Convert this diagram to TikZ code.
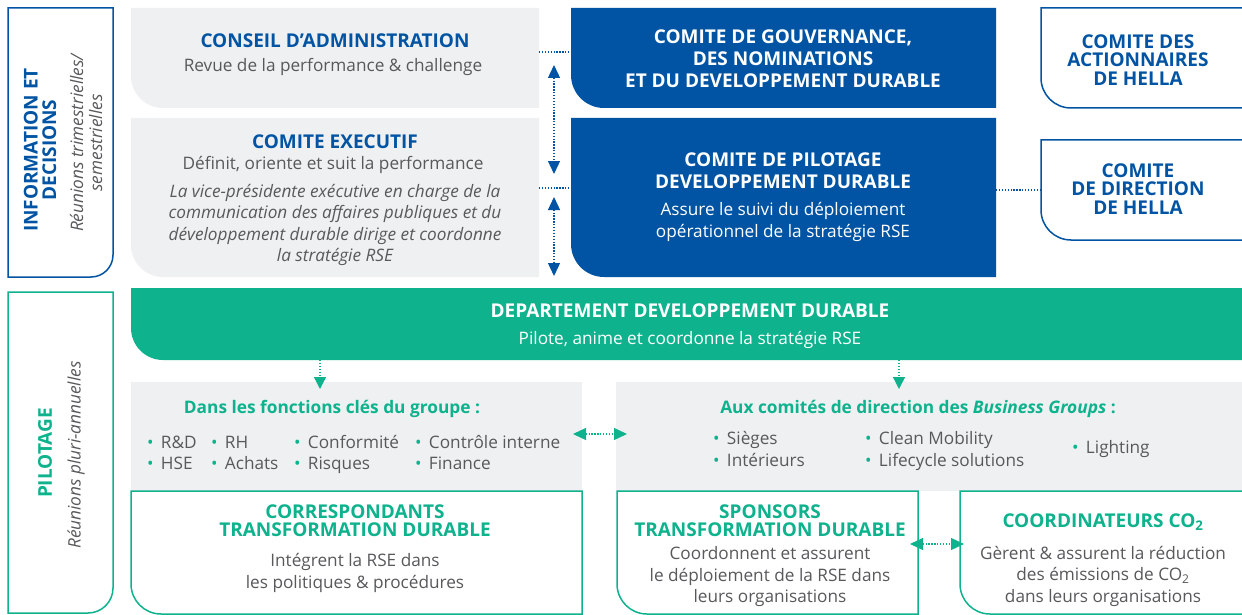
\documentclass[tikz,border=0pt]{standalone}
\usepackage{fontspec}
\setmainfont{Open Sans}
\usetikzlibrary{arrows.meta}
\definecolor{hblue}{HTML}{0054A3}
\definecolor{hgreen}{HTML}{0EB28D}
\definecolor{hgray}{HTML}{EFF0F2}
\definecolor{htext}{HTML}{58595B}
% box with rounded bottom-left corner: style, x1, y1, x2, y2, r (pixel coords, y down)
\newcommand{\blshape}[6]{\path[#1] (#2,-#3) -- (#2,{-#5+#6}) arc[start angle=180,end angle=270,radius=#6] -- (#4,-#5) -- (#4,-#3) -- cycle;}
% box with rounded bottom-right corner
\newcommand{\brshape}[6]{\path[#1] (#2,-#3) -- (#2,-#5) -- ({#4-#6},-#5) arc[start angle=270,end angle=360,radius=#6] -- (#4,-#3) -- cycle;}
% box open to the right (continues past the page)
\newcommand{\opshape}[5]{\path[#1] (1260,-#3) -- (#2,-#3) -- (#2,{-#4+#5}) arc[start angle=180,end angle=270,radius=#5] -- (1260,-#4);}
\newcommand{\itm}[1]{{\color{hgreen}•}\hspace{7.5pt}#1}
\tikzset{
  x=1pt, y=1pt,
  every node/.style={inner sep=0pt, outer sep=0pt},
  ttl/.style={font=\bfseries\fontsize{19}{22}\selectfont, align=center},
  sttl/.style={font=\bfseries\fontsize{17.3}{22}\selectfont, align=center},
  bdy/.style={font=\fontsize{17.2}{21.5}\selectfont, text=htext, align=center},
  itl/.style={font=\itshape\fontsize{17.2}{21.5}\selectfont, text=htext, align=center},
  lst/.style={font=\fontsize{17.2}{21.5}\selectfont, text=htext, anchor=base west},
  bdot/.style={hblue, line width=1.3pt, dash pattern=on 1.3pt off 1.6pt},
  gdot/.style={hgreen, line width=1.3pt, dash pattern=on 1.3pt off 1.6pt},
  tip/.style={{Triangle[length=13pt,width=12pt]}-{Triangle[length=13pt,width=12pt]}},
  dtip/.style={-{Triangle[length=12pt,width=12pt]}},
}
\begin{document}
\begin{tikzpicture}
\useasboundingbox (0,0) rectangle (1242,-615);
\fill[white] (0,0) rectangle (1242,-615);
% ---- left label boxes
\brshape{draw=hblue, line width=1.5pt}{8}{8}{113}{277}{22}
\brshape{draw=hgreen, line width=1.5pt}{8}{292}{113}{613}{25}
% ---- top grey boxes
\blshape{fill=hgray}{131}{8}{539}{108}{32}
\blshape{fill=hgray}{131}{118}{539}{277}{32}
% ---- blue boxes
\blshape{fill=hblue}{571}{8}{996}{108}{33}
\blshape{fill=hblue}{571}{118}{996}{277}{33}
% ---- outlined HELLA boxes
\opshape{draw=hblue, line width=1.5pt, fill=white}{1041}{8}{108}{30}
\opshape{draw=hblue, line width=1.5pt, fill=white}{1041}{140}{240}{30}
% ---- green band
\path[fill=hgreen] (1260,-288) -- (131,-288) -- (131,-328) arc[start angle=180,end angle=270,radius=32] -- (1260,-360) -- cycle;
% ---- grey boxes of the lower part
\fill[hgray] (131,-382) rectangle (582,-491);
\fill[hgray] (616,-382) rectangle (1260,-491);
% ---- bottom outlined boxes
\blshape{draw=hgreen, line width=1.5pt, fill=white}{131}{491}{582}{614}{30}
\blshape{draw=hgreen, line width=1.5pt, fill=white}{617}{491}{918}{614}{30}
\opshape{draw=hgreen, line width=1.5pt, fill=white}{960}{491}{614}{30}

% ---- connector ends
\coordinate (caR) at (539,-52);  \coordinate (cgL) at (571,-52);
\coordinate (ceR) at (539,-188); \coordinate (cpL) at (571,-188);
\coordinate (cpR) at (996,-190); \coordinate (dirL) at (1041,-190);
\coordinate (v1a) at (554,-65);  \coordinate (v1b) at (554,-174);
\coordinate (v2a) at (554,-197); \coordinate (v2b) at (554,-276);
\coordinate (ddA) at (320,-360); \coordinate (fkT) at (320,-389);
\coordinate (ddB) at (899,-360); \coordinate (acT) at (899,-389);
\coordinate (fkR) at (573,-434); \coordinate (acL) at (627,-434);
\coordinate (spR) at (910,-544); \coordinate (ccL) at (964,-544);

\draw[bdot] (caR) -- (cgL);
\draw[bdot] (ceR) -- (cpL);
\draw[bdot] (cpR) -- (dirL);
\draw[bdot, tip] (v1a) -- (v1b);
\draw[bdot, tip] (v2a) -- (v2b);
\draw[gdot, dtip] (ddA) -- (fkT);
\draw[gdot, dtip] (ddB) -- (acT);
\draw[gdot, tip] (fkR) -- (acL);
\draw[gdot, tip] (spR) -- (ccL);

% ---- side labels
\node[ttl, text=hblue, rotate=90, font=\bfseries\fontsize{19}{18.5}\selectfont] (infoT) at (40,-150) {INFORMATION ET\\DECISIONS};
\node[itl, rotate=90, font=\itshape\fontsize{17.2}{19}\selectfont] (infoS) at (86,-143) {Réunions trimestrielles/\\semestrielles};
\node[ttl, text=hgreen, rotate=90] (pilT) at (45,-453) {PILOTAGE};
\node[itl, rotate=90] (pilS) at (76,-455) {Réunions pluri-annuelles};

% ---- top texts
\node[ttl, text=hblue] (caT) at (335,-41) {CONSEIL D’ADMINISTRATION};
\node[bdy] (caB) at (333,-67) {Revue de la performance \& challenge};
\node[ttl, text=hblue] (ceT) at (335,-142) {COMITE EXECUTIF};
\node[bdy] (ceB) at (333,-165) {Définit, oriente et suit la performance};
\node[itl] (ceI) at (335,-225) {La vice-présidente exécutive en charge de la\\communication des affaires publiques et du\\développement durable dirige et coordonne\\la stratégie RSE};
\node[ttl, text=white] (cg) at (783,-59) {COMITE DE GOUVERNANCE,\\DES NOMINATIONS\\ET DU DEVELOPPEMENT DURABLE};
\node[ttl, text=white] (cpT) at (783,-171) {COMITE DE PILOTAGE\\DEVELOPPEMENT DURABLE};
\node[bdy, text=white] (cpB) at (783,-222) {Assure le suivi du déploiement\\opérationnel de la stratégie RSE};
\node[ttl, text=hblue, font=\bfseries\fontsize{19}{18.5}\selectfont] (act) at (1138,-60) {COMITE DES\\ACTIONNAIRES\\DE HELLA};
\node[ttl, text=hblue, font=\bfseries\fontsize{19}{18.5}\selectfont] (dir) at (1138,-189) {COMITE\\DE DIRECTION\\DE HELLA};

% ---- green band texts
\node[ttl, text=white] (ddT) at (690,-311) {DEPARTEMENT DEVELOPPEMENT DURABLE};
\node[bdy, text=white] (ddS) at (690,-340) {Pilote, anime et coordonne la stratégie RSE};

% ---- key functions
\node[sttl, text=hgreen] (fkTi) at (332,-409) {Dans les fonctions clés du groupe :};
\node[lst] (f1) at (147,-448) {\itm{R\&D}};
\node[lst] (f2) at (147,-469) {\itm{HSE}};
\node[lst] (f3) at (211,-448) {\itm{RH}};
\node[lst] (f4) at (211,-469) {\itm{Achats}};
\node[lst] (f5) at (294,-448) {\itm{Conformité}};
\node[lst] (f6) at (294,-469) {\itm{Risques}};
\node[lst] (f7) at (415,-448) {\itm{Contrôle interne}};
\node[lst] (f8) at (415,-469) {\itm{Finance}};

% ---- business groups
\node[sttl, text=hgreen] (acTi) at (918,-409) {Aux comités de direction des \textit{Business Groups} :};
\node[lst] (g1) at (713,-444) {\itm{Sièges}};
\node[lst] (g2) at (713,-466) {\itm{Intérieurs}};
\node[lst] (g3) at (865,-444) {\itm{Clean Mobility}};
\node[lst] (g4) at (865,-466) {\itm{Lifecycle solutions}};
\node[lst] (g5) at (1072,-453) {\itm{Lighting}};

% ---- bottom boxes
\node[ttl, text=hgreen, font=\bfseries\fontsize{19}{18}\selectfont] (coT) at (355,-521) {CORRESPONDANTS\\TRANSFORMATION DURABLE};
\node[bdy] (coB) at (355,-573) {Intégrent la RSE dans\\les politiques \& procédures};
\node[ttl, text=hgreen, font=\bfseries\fontsize{19}{18}\selectfont] (spT) at (770,-521) {SPONSORS\\TRANSFORMATION DURABLE};
\node[bdy] (spB) at (770,-577) {Coordonnent et assurent\\le déploiement de la RSE dans\\leurs organisations};
\node[ttl, text=hgreen] (ccT) at (1103,-522) {COORDINATEURS CO\textsubscript{2}};
\node[bdy] (ccB) at (1103,-576) {Gèrent \& assurent la réduction\\des émissions de CO\textsubscript{2}\\dans leurs organisations};
\end{tikzpicture}
\end{document}
